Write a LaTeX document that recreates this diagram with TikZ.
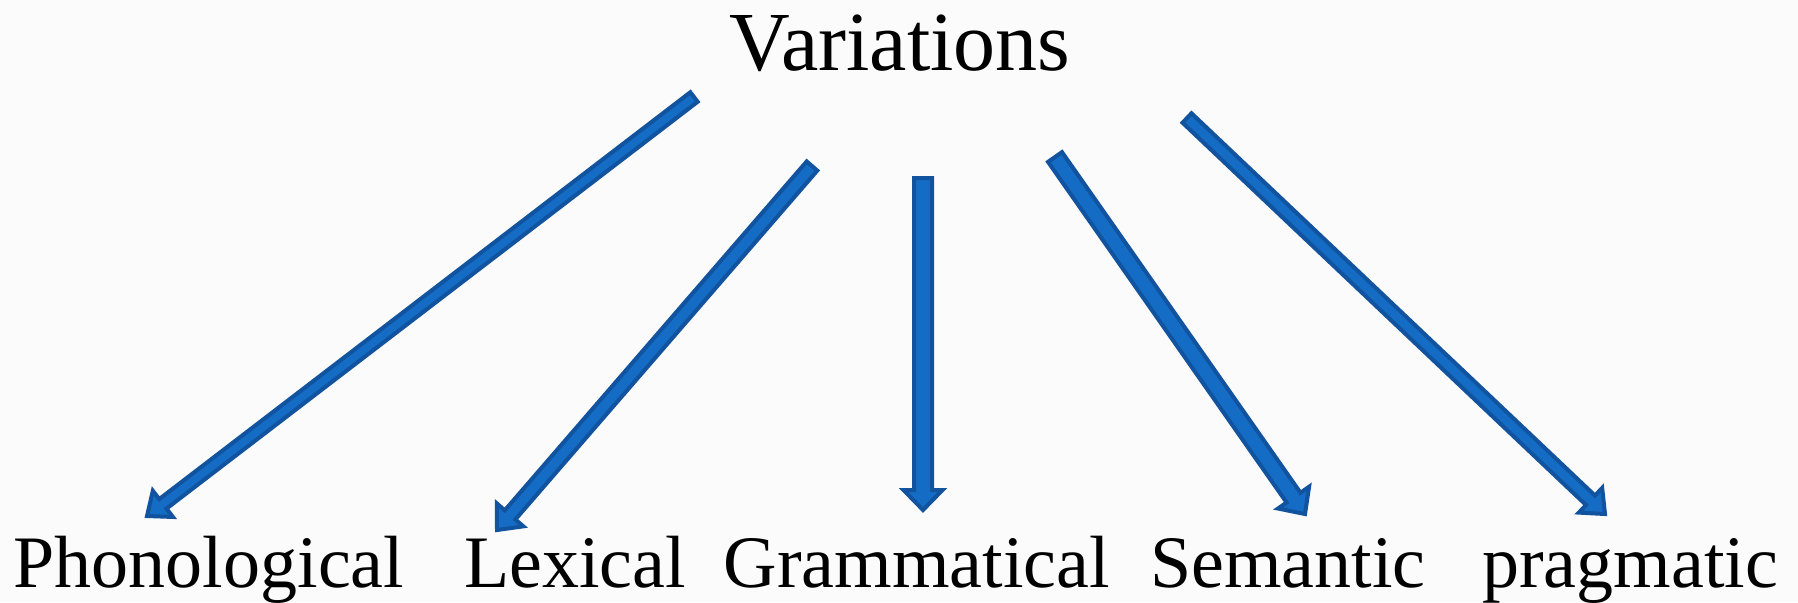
\documentclass[tikz,border=0pt]{standalone}
\usepackage{fontspec}
\setmainfont{Liberation Serif}
\usetikzlibrary{calc}
\definecolor{arrowfill}{RGB}{20,108,196}
\definecolor{arrowedge}{RGB}{17,83,158}
\definecolor{paper}{RGB}{251,251,251}

\begin{document}
\begin{tikzpicture}[x=0.5pt, y=-0.5pt,
    word/.style={font=\fontsize{37pt}{40pt}\selectfont, anchor=base, inner sep=0pt},
    title/.style={font=\fontsize{42pt}{46pt}\selectfont, anchor=base, inner sep=0pt},
    barrow/.style={draw=arrowedge, fill=arrowfill, line width=2pt, line join=miter}]
  \useasboundingbox (0,0) rectangle (1798,602);
  \fill[paper] (0,0) rectangle (1798,602);
  \def\hl{10pt}         % head length of the block arrows
  \node[title] (var) at (900,70) {Variations};
  \node[word] (phon) at (209,587) {Phonological};
  \node[word] (lex)  at (575,587) {Lexical};
  \node[word] (gram) at (917,587) {Grammatical};
  \node[word] (sem)  at (1288,587) {Semantic};
  \node[word] (prag) at (1630,587) {pragmatic};
  % free ends of the arrows: tails below the title, tips above the words
  \coordinate (s1) at (694,97);   \coordinate (t1) at (147,516);
  \coordinate (s2) at (812,166);  \coordinate (t2) at (497,530);
  \coordinate (s3) at (923,178);  \coordinate (t3) at (923,510);
  \coordinate (s4) at (1055,157); \coordinate (t4) at (1305,514);
  \coordinate (s5) at (1187,118); \coordinate (t5) at (1605,514);
  \foreach \i/\w in {1/3,2/3.5,3/4.5,4/4.25,5/3.25} {
    \pgfmathsetmacro{\hw}{\w+5.25}
    \coordinate (h\i) at ($(t\i)!\hl!(s\i)$);
    \draw[barrow] ($(s\i)!\w pt!90:(t\i)$) -- ($(h\i)!\w pt!90:(t\i)$)
      -- ($(h\i)!\hw pt!90:(t\i)$) -- (t\i) -- ($(h\i)!\hw pt!-90:(t\i)$)
      -- ($(h\i)!\w pt!-90:(t\i)$) -- ($(s\i)!\w pt!-90:(t\i)$) -- cycle;
  }
\end{tikzpicture}
\end{document}
